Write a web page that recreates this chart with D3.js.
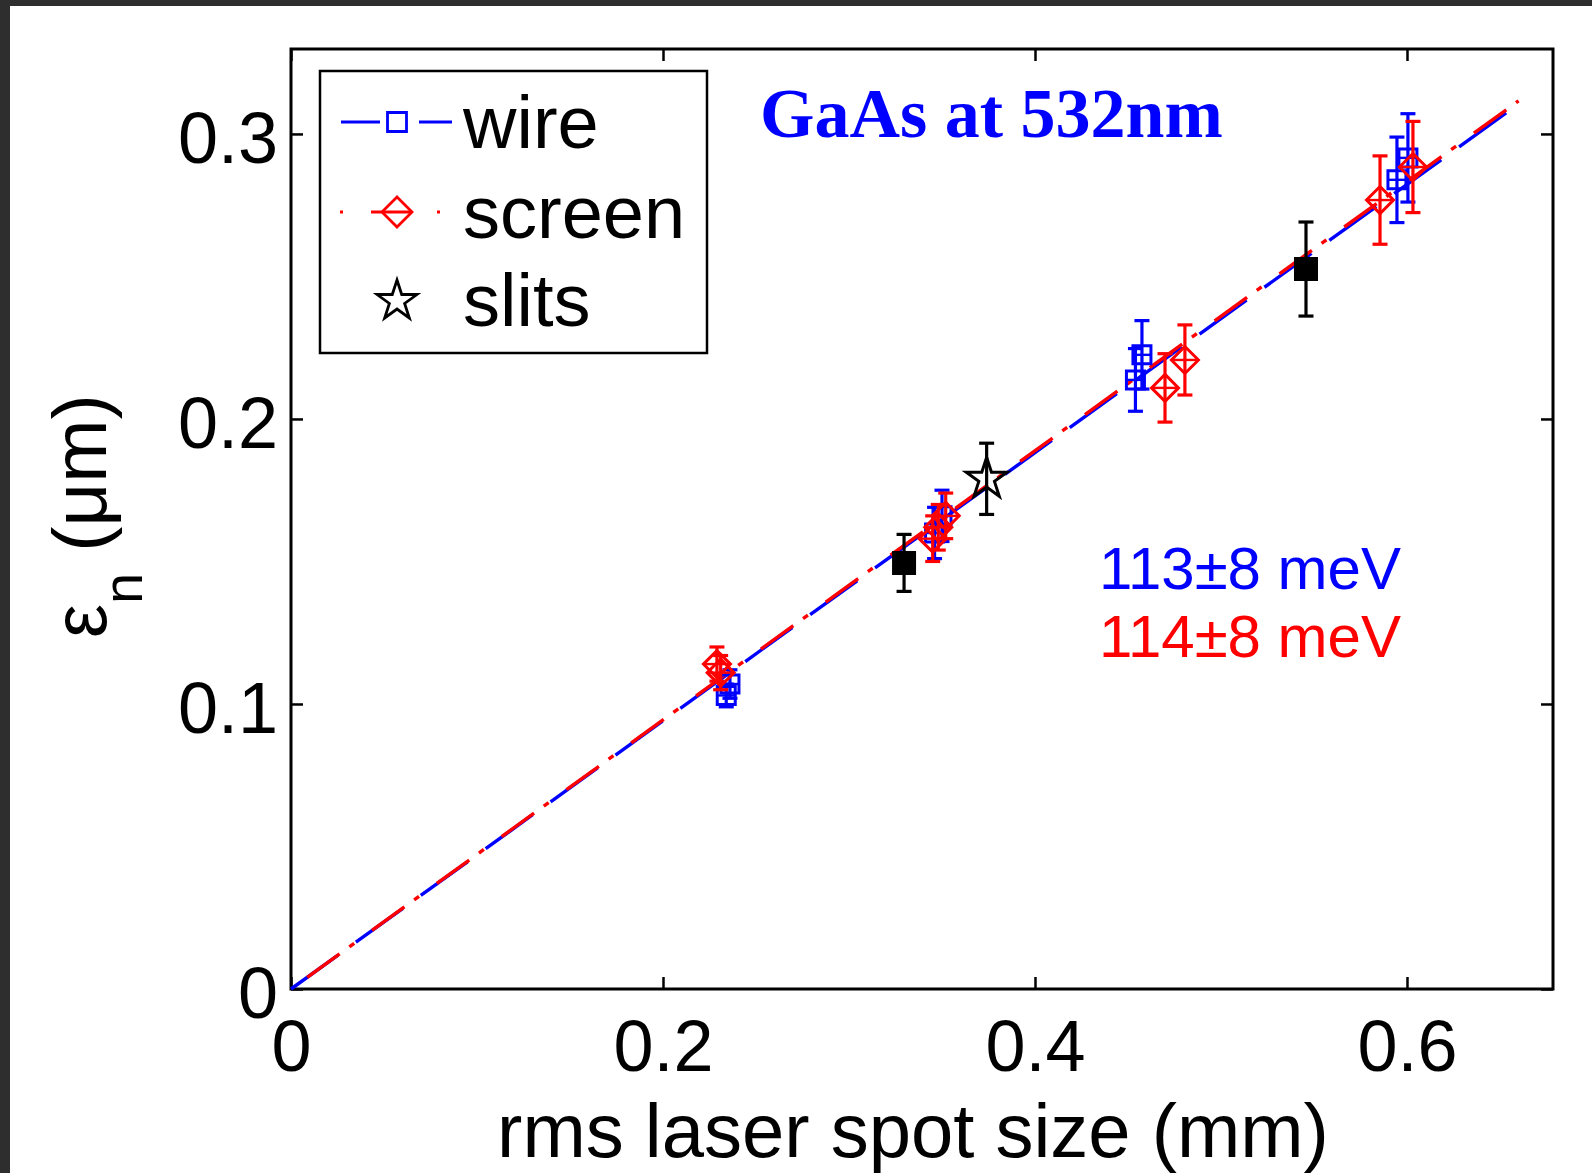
<!DOCTYPE html>
<html><head><meta charset="utf-8">
<script src="https://cdn.jsdelivr.net/npm/d3@7"></script>
<style>html,body{margin:0;padding:0;background:#fff}svg{display:block}</style>
</head><body><svg id="c" width="1592" height="1173"></svg>
<script>
// ---- data ----
const xTicks = [0, 0.2, 0.4, 0.6];
const yTicks = [0, 0.1, 0.2, 0.3];
const xTickLabels = ["0", "0.2", "0.4", "0.6"];
const yTickLabels = ["0", "0.1", "0.2", "0.3"];

const wireX   = [0.234, 0.236, 0.346, 0.350, 0.454, 0.4575, 0.5946, 0.6005];
const wireY   = [0.103, 0.107, 0.160, 0.166, 0.2137, 0.2225, 0.2839, 0.2916];
const wireErr = [0.004, 0.005, 0.009, 0.009, 0.011, 0.012, 0.015, 0.0155];

const screenX   = [0.229, 0.231, 0.345, 0.348, 0.352, 0.4699, 0.4806, 0.5855, 0.6032];
const screenY   = [0.114, 0.111, 0.158, 0.162, 0.166, 0.2109, 0.2207, 0.2768, 0.2884];
const screenErr = [0.006, 0.006, 0.008, 0.008, 0.008, 0.012, 0.0123, 0.0155, 0.016];

const slitsX   = [0.374];
const slitsY   = [0.179];
const slitsErr = [0.0125];

const solidX   = [0.3296, 0.5457];
const solidY   = [0.1495, 0.2526];
const solidErr = [0.010, 0.0165];

const fitX      = [0, 0.66];
const fitWire   = [0, 0.3105];
const fitScreen = [0, 0.3116];

const legendLabels = ["wire", "screen", "slits"];
const annotations = ["113±8 meV", "114±8 meV"];
const titleText = "GaAs at 532nm";
const xLabel = "rms laser spot size (mm)";

// ---- drawing ----
const BLUE = "#0000ff", RED = "#ff0000";
const FONT = "'Liberation Sans', Arial, sans-serif";
const svg = d3.select("#c");
svg.append("rect").attr("width", 1592).attr("height", 1173).attr("fill", "#2e2e2e");
svg.append("rect").attr("x", 10).attr("y", 6).attr("width", 1582).attr("height", 1167).attr("fill", "#fff");

const L = 291, R = 1553, T = 49, B = 989;
const x = d3.scaleLinear().domain([0, 0.6785]).range([L, R]);
const y = d3.scaleLinear().domain([0, 0.3298]).range([B, T]);

// axes
const gB = svg.append("g").attr("transform", `translate(0,${B})`)
  .call(d3.axisBottom(x).tickValues(xTicks).tickFormat((d, i) => xTickLabels[i]).tickSize(-12).tickSizeOuter(0).tickPadding(31));
const gL = svg.append("g").attr("transform", `translate(${L},0)`)
  .call(d3.axisLeft(y).tickValues(yTicks).tickFormat((d, i) => yTickLabels[i]).tickSize(-12).tickSizeOuter(0).tickPadding(13));
const gT = svg.append("g").attr("transform", `translate(0,${T})`)
  .call(d3.axisTop(x).tickValues(xTicks).tickFormat("").tickSize(-12).tickSizeOuter(0));
const gR = svg.append("g").attr("transform", `translate(${R},0)`)
  .call(d3.axisRight(y).tickValues(yTicks).tickFormat("").tickSize(-12).tickSizeOuter(0));
[gB, gL, gT, gR].forEach(g => {
  g.select(".domain").remove();
  g.selectAll(".tick line").attr("stroke", "#000").attr("stroke-width", 2.5);
  g.selectAll("text").attr("font-family", FONT).attr("font-size", 72).attr("fill", "#000");
});
gL.selectAll("text").attr("dy", "0.4em");
svg.append("rect").attr("x", L).attr("y", T).attr("width", R - L).attr("height", B - T)
  .attr("fill", "none").attr("stroke", "#000").attr("stroke-width", 3);

// fit lines (same period so gaps coincide)
const line = d3.line().x(d => x(d[0])).y(d => y(d[1]));
svg.append("path").datum(fitX.map((v, i) => [v, fitWire[i]])).attr("d", line)
  .attr("fill", "none").attr("stroke", BLUE).attr("stroke-width", 3.4).attr("stroke-dasharray", "58,22");
svg.append("path").datum(fitX.map((v, i) => [v, fitScreen[i]])).attr("d", line)
  .attr("fill", "none").attr("stroke", RED).attr("stroke-width", 3.4).attr("stroke-dasharray", "40,12,6,22")
  .attr("stroke-dashoffset", -20);

// markers
function squarePath(h) { return `M${-h},${-h}H${h}V${h}H${-h}Z`; }
function diamondPath(h) { return `M0,${-h}L${h},0L0,${h}L${-h},0Z`; }
function starPath(Ro) {
  const ri = Ro * 0.382, pts = [];
  for (let k = 0; k < 10; k++) {
    const r = k % 2 ? ri : Ro, a = -Math.PI / 2 + k * Math.PI / 5;
    pts.push([r * Math.cos(a), r * Math.sin(a)]);
  }
  return "M" + pts.map(p => p.join(",")).join("L") + "Z";
}

function series(xs, ys, es, color, shape, opts) {
  const g = svg.append("g");
  const cap = 7.5;
  const data = xs.map((v, i) => ({ x: v, y: ys[i], e: es[i] }));
  const pt = g.selectAll("g").data(data).join("g");
  pt.append("line").attr("x1", d => x(d.x)).attr("x2", d => x(d.x))
    .attr("y1", d => y(d.y - d.e)).attr("y2", d => y(d.y + d.e))
    .attr("stroke", color).attr("stroke-width", 3.2);
  [-1, 1].forEach(s => {
    pt.append("line").attr("x1", d => x(d.x) - cap).attr("x2", d => x(d.x) + cap)
      .attr("y1", d => y(d.y + s * d.e)).attr("y2", d => y(d.y + s * d.e))
      .attr("stroke", color).attr("stroke-width", 3.2);
  });
  pt.append("path").attr("transform", d => `translate(${x(d.x)},${y(d.y)})`)
    .attr("d", shape).attr("fill", opts.fill).attr("stroke", color).attr("stroke-width", 3);
  if (opts.cross) {
    pt.append("line").attr("x1", d => x(d.x) - opts.cross).attr("x2", d => x(d.x) + opts.cross)
      .attr("y1", d => y(d.y)).attr("y2", d => y(d.y))
      .attr("stroke", color).attr("stroke-width", 2.4);
  }
}
series(wireX, wireY, wireErr, BLUE, squarePath(9), { fill: "none", cross: 8.5 });
series(screenX, screenY, screenErr, RED, diamondPath(13.5), { fill: "none", cross: 12.5 });
series(solidX, solidY, solidErr, "#000", squarePath(10.5), { fill: "#000" });
series(slitsX, slitsY, slitsErr, "#000", starPath(21.5), { fill: "none" });

// legend
const lg = svg.append("g");
lg.append("rect").attr("x", 320).attr("y", 71).attr("width", 387).attr("height", 282)
  .attr("fill", "#fff").attr("stroke", "#000").attr("stroke-width", 2.5);
const rowsY = [122, 212, 300];
const symX = 397;
lg.append("line").attr("x1", 341).attr("x2", 452).attr("y1", rowsY[0]).attr("y2", rowsY[0])
  .attr("stroke", BLUE).attr("stroke-width", 3).attr("stroke-dasharray", "39,39,33");
lg.append("path").attr("transform", `translate(${symX},${rowsY[0]})`).attr("d", squarePath(9.5))
  .attr("fill", "none").attr("stroke", BLUE).attr("stroke-width", 2.8);
lg.append("line").attr("x1", 340).attr("x2", 440).attr("y1", rowsY[1]).attr("y2", rowsY[1])
  .attr("stroke", RED).attr("stroke-width", 3).attr("stroke-dasharray", "3,28,40,26,3");
lg.append("path").attr("transform", `translate(${symX},${rowsY[1]})`).attr("d", diamondPath(15))
  .attr("fill", "none").attr("stroke", RED).attr("stroke-width", 2.8);
lg.append("path").attr("transform", `translate(${symX},${rowsY[2] + 1})`).attr("d", starPath(21))
  .attr("fill", "none").attr("stroke", "#000").attr("stroke-width", 2.8);
lg.selectAll("text.lab").data(legendLabels).join("text").attr("class", "lab")
  .attr("x", 463).attr("y", (d, i) => rowsY[i] + 26)
  .attr("font-family", FONT).attr("font-size", 74).attr("fill", "#000").text(d => d);

// title
svg.append("text").attr("x", 760).attr("y", 137)
  .attr("font-family", "'Liberation Serif', 'Times New Roman', serif").attr("font-weight", "bold")
  .attr("font-size", 70).attr("fill", BLUE).text(titleText);

// annotations
svg.selectAll("text.ann").data(annotations).join("text").attr("class", "ann")
  .attr("x", 1099).attr("y", (d, i) => 589 + i * 68)
  .attr("font-family", FONT).attr("font-size", 60).attr("fill", (d, i) => i ? RED : BLUE).text(d => d);

// x label
svg.append("text").attr("x", 913).attr("y", 1157).attr("text-anchor", "middle")
  .attr("font-family", FONT).attr("font-size", 76).attr("fill", "#000").text(xLabel);

// y label
const yl = svg.append("text").attr("transform", "translate(106,638) rotate(-90)")
  .attr("font-family", FONT).attr("font-size", 76).attr("fill", "#000");
yl.append("tspan").text("ε");
yl.append("tspan").attr("font-size", 56).attr("dy", 36).text("n");
yl.append("tspan").attr("dy", -36).text(" (μm)");
</script></body></html>
